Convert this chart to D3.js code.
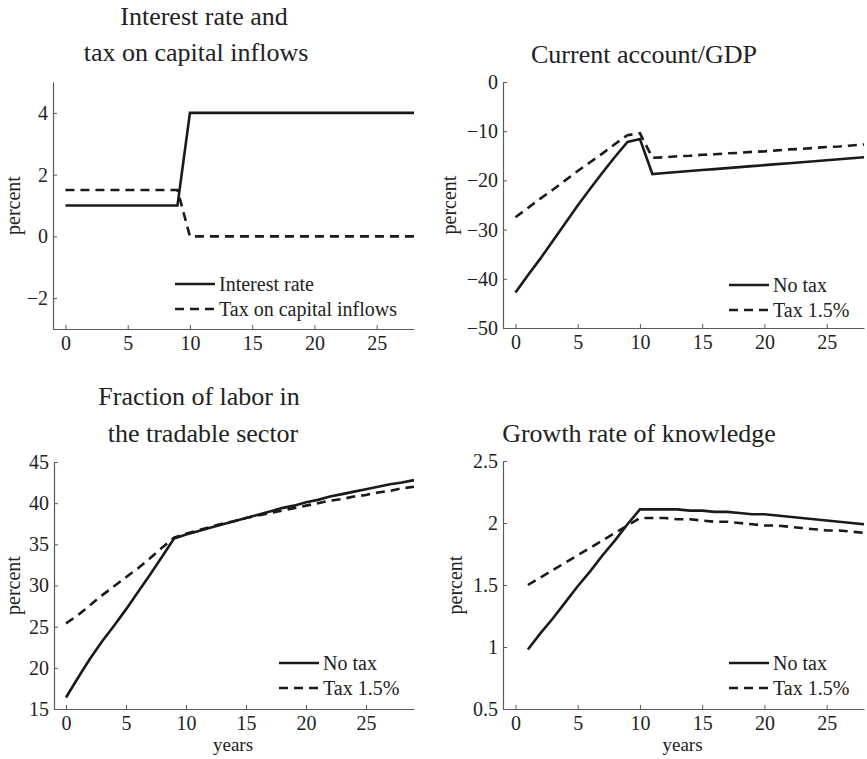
<!DOCTYPE html>
<html>
<head>
<meta charset="utf-8">
<script src="https://cdn.jsdelivr.net/npm/d3@7"></script>
<style>
  html, body { margin: 0; padding: 0; background: #fff; }
  svg { display: block; }
  text { font-family: "Liberation Serif", "Times New Roman", serif; fill: #222; }
</style>
</head>
<body>
<svg id="chart" width="867" height="759"></svg>
<script>
// ---- data -------------------------------------------------------------
const yearsTop = d3.range(0, 29);      // 0..28
const yearsLabor = d3.range(0, 30);    // 0..29
const yearsKnowledge = d3.range(1, 29); // 1..28

const interestRate = [1,1,1,1,1,1,1,1,1,1, 4,4,4,4,4,4,4,4,4,4,4,4,4,4,4,4,4,4,4];
const capitalInflowTax = [1.5,1.5,1.5,1.5,1.5,1.5,1.5,1.5,1.5,1.5, 0,0,0,0,0,0,0,0,0,0,0,0,0,0,0,0,0,0,0];

const currentAccountNoTax = [-42.8,-39.3,-35.9,-32.3,-28.7,-25.1,-21.7,-18.4,-15.2,-12.2,
  -11.6,-18.7,-18.5,-18.3,-18.1,-17.9,-17.7,-17.5,-17.3,-17.1,
  -16.9,-16.7,-16.5,-16.3,-16.1,-15.9,-15.7,-15.5,-15.3];
const currentAccountTax = [-27.5,-25.6,-23.7,-21.9,-20.0,-18.1,-16.3,-14.5,-12.6,-10.8,
  -10.4,-15.4,-15.3,-15.1,-15.0,-14.8,-14.7,-14.5,-14.4,-14.2,
  -14.1,-13.9,-13.7,-13.6,-13.4,-13.2,-13.1,-12.9,-12.7];

const laborNoTax = [16.4,18.8,21.1,23.2,25.1,27.1,29.2,31.3,33.5,35.7,
  36.2,36.6,37.0,37.4,37.8,38.2,38.6,39.0,39.4,39.7,
  40.1,40.4,40.8,41.1,41.4,41.7,42.0,42.3,42.5,42.8];
const laborTax = [25.4,26.4,27.6,28.8,29.9,31.0,32.1,33.3,34.6,35.8,
  36.3,36.7,37.1,37.5,37.8,38.2,38.5,38.8,39.1,39.4,
  39.7,40.0,40.3,40.5,40.8,41.0,41.3,41.5,41.8,42.0];

const knowledgeNoTax = [0.98,1.11,1.23,1.36,1.49,1.61,1.74,1.86,1.99,2.11,
  2.11,2.11,2.11,2.10,2.10,2.09,2.09,2.08,2.07,2.07,
  2.06,2.05,2.04,2.03,2.02,2.01,2.00,1.99];
const knowledgeTax = [1.50,1.56,1.62,1.68,1.74,1.80,1.86,1.92,1.98,2.04,
  2.04,2.04,2.03,2.03,2.02,2.01,2.01,2.00,1.99,1.98,
  1.98,1.97,1.96,1.95,1.94,1.94,1.93,1.92];

const xTicks = [0, 5, 10, 15, 20, 25];
const ticksRate = [-2, 0, 2, 4];
const ticksCA = [-50, -40, -30, -20, -10, 0];
const ticksLabor = [15, 20, 25, 30, 35, 40, 45];
const ticksKnowledge = [0.5, 1, 1.5, 2, 2.5];

const legendRate = ["Interest rate", "Tax on capital inflows"];
const legendTax = ["No tax", "Tax 1.5%"];

// ---- panel layout -----------------------------------------------------
const panels = [
  {
    title: ["Interest rate and", "tax on capital inflows"], titleX: [204, 196], titleY: [25, 61],
    xDomain: [-1, 28], xRange: [53, 414], yDomain: [-3, 5], yRange: [329, 82],
    yTicks: ticksRate, yFmt: d3.format("d"),
    years: yearsTop, series: [interestRate, capitalInflowTax], legend: legendRate,
    legendX: 175, legendY: 284, ylabX: 20, xlab: false
  },
  {
    title: ["Current account/GDP"], titleX: [644], titleY: [63],
    xDomain: [-1, 28], xRange: [503, 864], yDomain: [-50, 0], yRange: [328, 82],
    yTicks: ticksCA, yFmt: d3.format("d"),
    years: yearsTop, series: [currentAccountNoTax, currentAccountTax], legend: legendTax,
    legendX: 729, legendY: 285, ylabX: 456, xlab: false
  },
  {
    title: ["Fraction of labor in", "the tradable sector"], titleX: [199, 203], titleY: [405, 442],
    xDomain: [-1, 29], xRange: [54, 414], yDomain: [15, 45], yRange: [709, 462],
    yTicks: ticksLabor, yFmt: d3.format("d"),
    years: yearsLabor, series: [laborNoTax, laborTax], legend: legendTax,
    legendX: 279, legendY: 663, ylabX: 20, xlab: true
  },
  {
    title: ["Growth rate of knowledge"], titleX: [639], titleY: [442],
    xDomain: [-1, 28], xRange: [503, 864], yDomain: [0.5, 2.5], yRange: [709, 461],
    yTicks: ticksKnowledge, yFmt: d => d3.format("")(d),
    years: yearsKnowledge, series: [knowledgeNoTax, knowledgeTax], legend: legendTax,
    legendX: 729, legendY: 663, ylabX: 462, xlab: true
  }
];

const svg = d3.select("#chart");
const lineColor = "#1a1a1a";
const axisColor = "#5a5a5a";
const dashes = [null, "9,6"];

panels.forEach(p => {
  const x = d3.scaleLinear().domain(p.xDomain).range(p.xRange);
  const y = d3.scaleLinear().domain(p.yDomain).range(p.yRange);
  const g = svg.append("g");

  // axes, ticks pointing inward
  const xAxis = g.append("g")
    .attr("transform", `translate(0,${p.yRange[0]})`)
    .call(d3.axisBottom(x).tickValues(xTicks).tickSizeInner(-4).tickSizeOuter(0).tickPadding(7));
  const yAxis = g.append("g")
    .attr("transform", `translate(${p.xRange[0]},0)`)
    .call(d3.axisLeft(y).tickValues(p.yTicks).tickFormat(p.yFmt).tickSizeInner(-4).tickSizeOuter(0).tickPadding(5));
  [xAxis, yAxis].forEach(a => {
    a.select(".domain").attr("stroke", axisColor).attr("stroke-width", 1.2);
    a.selectAll(".tick line").attr("stroke", axisColor).attr("stroke-width", 1);
    a.selectAll(".tick text")
      .attr("fill", "#222")
      .style("font-family", '"Liberation Serif", "Times New Roman", serif')
      .style("font-size", "20px");
  });

  // series
  const line = d3.line().x((d, i) => x(p.years[i])).y(d => y(d));
  p.series.forEach((s, k) => {
    g.append("path")
      .datum(s)
      .attr("fill", "none")
      .attr("stroke", lineColor)
      .attr("stroke-width", 2.6)
      .attr("stroke-linejoin", "miter")
      .attr("stroke-dasharray", dashes[k])
      .attr("d", line);
  });

  // titles
  p.title.forEach((t, i) => {
    g.append("text")
      .attr("x", p.titleX[i]).attr("y", p.titleY[i])
      .attr("text-anchor", "middle")
      .style("font-size", "26px")
      .text(t);
  });

  // y label
  g.append("text")
    .attr("transform", `translate(${p.ylabX},${(p.yRange[0] + p.yRange[1]) / 2}) rotate(-90)`)
    .attr("text-anchor", "middle")
    .style("font-size", "20px")
    .text("percent");

  // x label
  if (p.xlab) {
    g.append("text")
      .attr("x", (p.xRange[0] + p.xRange[1]) / 2 - 1)
      .attr("y", 751)
      .attr("text-anchor", "middle")
      .style("font-size", "19px")
      .text("years");
  }

  // legend
  p.legend.forEach((name, k) => {
    const ly = p.legendY + k * 25;
    g.append("line")
      .attr("x1", p.legendX).attr("x2", p.legendX + 40)
      .attr("y1", ly).attr("y2", ly)
      .attr("stroke", lineColor)
      .attr("stroke-width", 2.6)
      .attr("stroke-dasharray", dashes[k]);
    g.append("text")
      .attr("x", p.legendX + 44).attr("y", ly + 7)
      .style("font-size", "20px")
      .text(name);
  });
});
</script>
</body>
</html>
